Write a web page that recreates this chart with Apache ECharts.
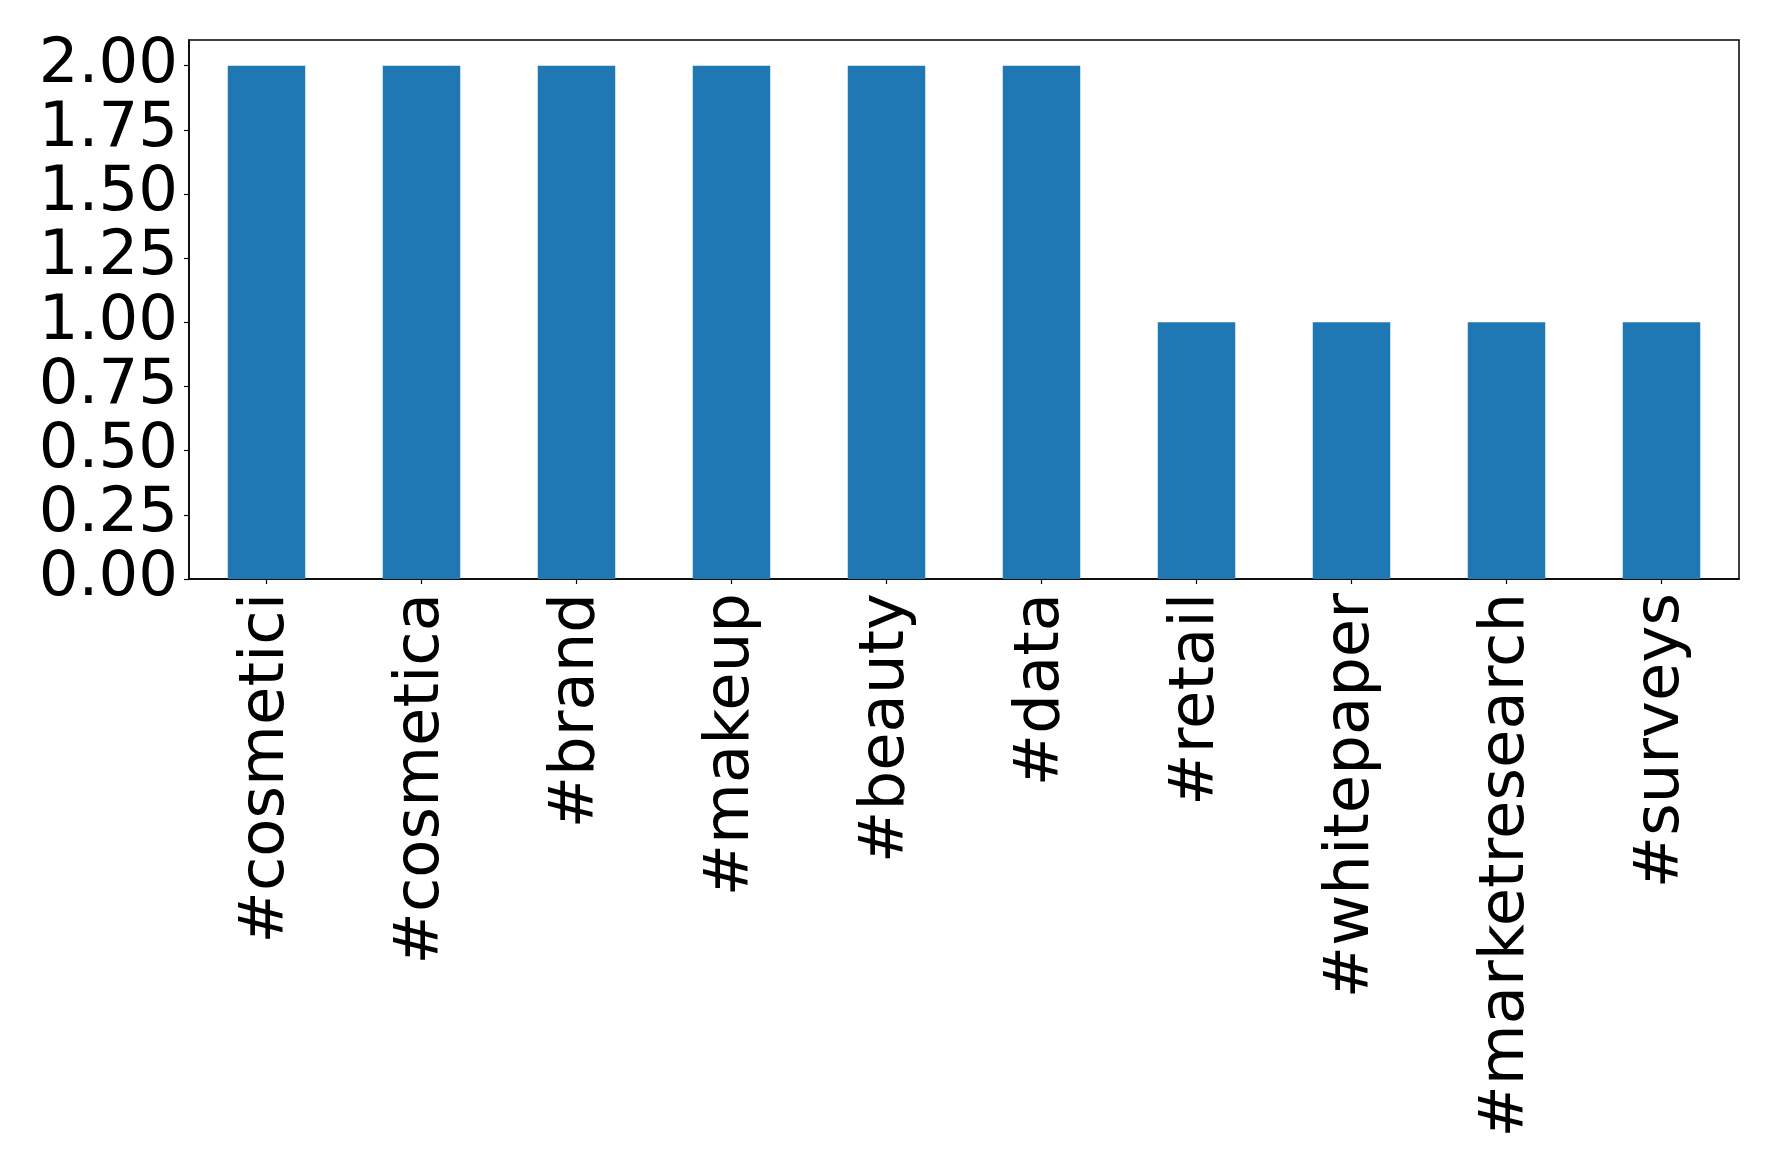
<!DOCTYPE html>
<html>
<head>
<meta charset="utf-8">
<script src="https://cdn.jsdelivr.net/npm/echarts@6/dist/echarts.min.js"></script>
<style>html,body{margin:0;padding:0;background:#fff;}#c{width:1778px;height:1173px;}</style>
</head>
<body>
<div id="c"></div>
<script>
const categories = ['#cosmetici', '#cosmetica', '#brand', '#makeup', '#beauty', '#data', '#retail', '#whitepaper', '#marketresearch', '#surveys'];
const counts = [2, 2, 2, 2, 2, 2, 1, 1, 1, 1];
const yTicks = [0, 0.25, 0.5, 0.75, 1.0, 1.25, 1.5, 1.75, 2.0];

const chart = echarts.init(document.getElementById('c'), null, {renderer: 'canvas'});
const font = 'DejaVu Sans';
chart.setOption({
  animation: false,
  backgroundColor: '#ffffff',
  grid: {left: 189, top: 40, right: 39, bottom: 594, show: true, borderColor: '#000', borderWidth: 1.5, backgroundColor: 'transparent'},
  xAxis: {
    type: 'category',
    data: categories,
    boundaryGap: true,
    axisLine: {show: true, lineStyle: {color: '#000', width: 1.5}},
    axisTick: {show: true, alignWithLabel: true, length: 5, lineStyle: {color: '#000', width: 1.2}},
    axisLabel: {rotate: 90, margin: 14, fontSize: 62.5, fontFamily: font, color: '#000', interval: 0}
  },
  yAxis: {
    type: 'value',
    min: 0,
    max: 2.1,
    splitLine: {show: false},
    axisLine: {show: true, lineStyle: {color: '#000', width: 1.5}},
    axisTick: {show: true, length: 5, lineStyle: {color: '#000', width: 1.2}, customValues: yTicks},
    axisLabel: {margin: 11, fontSize: 62.5, fontFamily: font, color: '#000', customValues: yTicks,
      formatter: v => v.toFixed(2)}
  },
  series: [{
    type: 'bar',
    data: counts,
    barWidth: '50%',
    itemStyle: {color: '#1f77b4'}
  }]
});
</script>
</body>
</html>
